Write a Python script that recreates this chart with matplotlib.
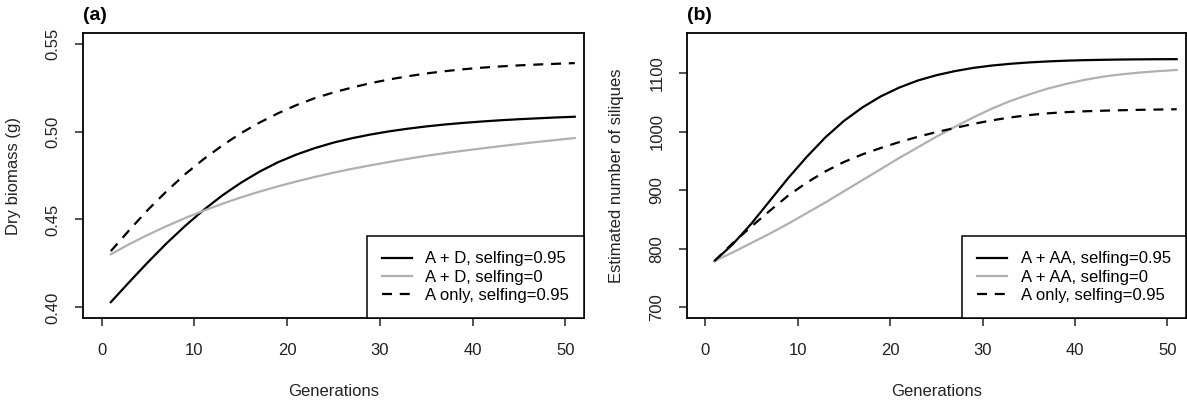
import matplotlib
matplotlib.use("Agg")
from matplotlib import pyplot as plt

plt.rcParams["font.family"] = ["Liberation Sans", "DejaVu Sans"]
plt.rcParams["font.size"] = 12

# generations sampled every 2 steps
generations = list(range(1, 52, 2))

# panel (a): dry biomass (g)
biomass_AD_s95 = [0.4030, 0.4145, 0.4257, 0.4364, 0.4463, 0.4554, 0.4636, 0.4708, 0.4771,
                  0.4825, 0.4869, 0.4906, 0.4937, 0.4962, 0.4983, 0.5001, 0.5016, 0.5029,
                  0.5040, 0.5049, 0.5057, 0.5064, 0.5070, 0.5075, 0.5080, 0.5084]
biomass_AD_s0 = [0.4302, 0.4360, 0.4413, 0.4462, 0.4508, 0.4550, 0.4589, 0.4625, 0.4658,
                 0.4688, 0.4716, 0.4742, 0.4766, 0.4788, 0.4808, 0.4827, 0.4845, 0.4862,
                 0.4877, 0.4891, 0.4904, 0.4917, 0.4929, 0.4941, 0.4952, 0.4963]
biomass_A_s95 = [0.4320, 0.4440, 0.4555, 0.4660, 0.4757, 0.4843, 0.4920, 0.4990, 0.5050,
                 0.5103, 0.5150, 0.5190, 0.5222, 0.5250, 0.5275, 0.5296, 0.5314, 0.5330,
                 0.5343, 0.5354, 0.5363, 0.5370, 0.5376, 0.5381, 0.5385, 0.5389]

# panel (b): estimated number of siliques
siliques_AAA_s95 = [779, 808, 843, 882, 921, 957, 990, 1018, 1041, 1060, 1075, 1087, 1096,
                    1103, 1108.5, 1112.5, 1115.5, 1117.8, 1119.5, 1120.8, 1121.7, 1122.3,
                    1122.8, 1123.1, 1123.3, 1123.4]
siliques_AAA_s0 = [779, 794, 810, 826, 843, 861, 879, 898, 917, 936, 955, 973, 991, 1008,
                   1024, 1039, 1052, 1063, 1073, 1081, 1088, 1093.5, 1097.5, 1100.5, 1103, 1105]
siliques_A_s95 = [779, 810, 838, 865, 891, 913, 932, 948, 961, 972, 982, 991, 999, 1006,
                  1013, 1019, 1024, 1028, 1031, 1033, 1034.5, 1035.5, 1036.3, 1037, 1037.5, 1038]

labels_a = ["A + D, selfing=0.95", "A + D, selfing=0", "A only, selfing=0.95"]
labels_b = ["A + AA, selfing=0.95", "A + AA, selfing=0", "A only, selfing=0.95"]

GREY = "#b0b0b0"
DASH = (0, (4.5, 3.5))

fig = plt.figure(figsize=(11.87, 4.05), dpi=100)
ax_a = fig.add_axes([0.0699, 0.2148, 0.4221, 0.7037])
ax_b = fig.add_axes([0.5785, 0.2148, 0.4206, 0.7037])


def style_axes(ax, yticks, yticklabels, ylabel, tag):
    ax.set_xlim(-2, 52)
    ax.set_xticks([0, 10, 20, 30, 40, 50])
    ax.set_yticks(yticks)
    ax.set_yticklabels(yticklabels, rotation=90, va="center")
    ax.tick_params(direction="out", length=6, width=1.1, labelsize=12, colors="#222222")
    ax.tick_params(axis="x", pad=12)
    ax.tick_params(axis="y", pad=10)
    for s in ax.spines.values():
        s.set_linewidth(1.3)
    ax.set_xlabel("Generations", labelpad=19, fontsize=12, color="#222222")
    ax.set_ylabel(ylabel, labelpad=18, fontsize=12, color="#222222")
    ax.text(0.0, 1.03, tag, transform=ax.transAxes, fontsize=14, fontweight="bold",
            ha="left", va="bottom")
    leg = ax.legend(loc="lower right", borderaxespad=0, fancybox=False, framealpha=1,
                    edgecolor="black", handlelength=1.8, handletextpad=0.8,
                    labelspacing=0.2, borderpad=0.9, fontsize=12)
    leg.get_frame().set_linewidth(1.1)


ax_a.plot(generations, biomass_AD_s95, color="black", lw=1.6, label=labels_a[0])
ax_a.plot(generations, biomass_AD_s0, color=GREY, lw=1.6, label=labels_a[1])
ax_a.plot(generations, biomass_A_s95, color="black", lw=1.6, linestyle=DASH, label=labels_a[2])
ax_a.set_ylim(0.394, 0.556)
style_axes(ax_a, [0.40, 0.45, 0.50, 0.55], ["0.40", "0.45", "0.50", "0.55"],
           "Dry biomass (g)", "(a)")

ax_b.plot(generations, siliques_AAA_s95, color="black", lw=1.6, label=labels_b[0])
ax_b.plot(generations, siliques_AAA_s0, color=GREY, lw=1.6, label=labels_b[1])
ax_b.plot(generations, siliques_A_s95, color="black", lw=1.6, linestyle=DASH, label=labels_b[2])
ax_b.set_ylim(682, 1168)
style_axes(ax_b, [700, 800, 900, 1000, 1100], ["700", "800", "900", "1000", "1100"],
           "Estimated number of siliques", "(b)")

fig.savefig("out.png", dpi=100)
